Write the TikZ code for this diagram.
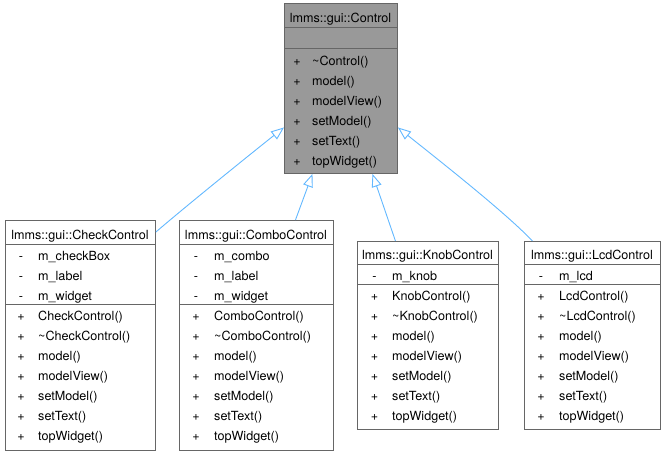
\documentclass[tikz,border=0pt]{standalone}
\usepackage{fontspec}
\setmainfont{TeX Gyre Heros}
\usetikzlibrary{arrows.meta}
\definecolor{boxline}{HTML}{666666}
\definecolor{basefill}{HTML}{999999}
\definecolor{edgeblue}{HTML}{63B8FF}
\tikzset{
  umlbox/.style={draw=boxline, line width=0.9pt, inner sep=0pt, anchor=north west, fill=white},
  divider/.style={draw=boxline, line width=0.9pt},
  txt/.style={inner sep=0pt, font=\fontsize{12.6}{15}\selectfont},
  classtitle/.style={txt, anchor=base},
  sign/.style={txt, anchor=base},
  member/.style={txt, anchor=base west},
  inherit/.style={draw=edgeblue, line width=0.9pt,
    -{Triangle[open, length=13pt, width=10pt, fill=white]}},
}
\begin{document}
\begin{tikzpicture}[x=1pt,y=-1pt]
\useasboundingbox (0,0) rectangle (664,456);

% ---- base class lmms::gui::Control ----
\node[umlbox, fill=basefill, minimum width=113pt, minimum height=170pt] (base) at (284,3) {};
\draw[divider] (284,27.5) -- (397,27.5);
\draw[divider] (284,48) -- (397,48);
\node[classtitle] (base-t) at (340.5,22.8) {lmms::gui::Control};
\foreach \t [count=\i from 0] in {\textasciitilde Control(), model(), modelView(), setModel(), setText(), topWidget()} {
  \node[sign] (base-s\i) at (297,65.5+20*\i) {+};
  \node[member] (base-m\i) at (312,65.5+20*\i) {\t};
}

% ---- lmms::gui::CheckControl ----
\node[umlbox, minimum width=150pt, minimum height=230pt] (check) at (5,220) {};
\draw[divider] (5,244) -- (155,244);
\draw[divider] (5,304) -- (155,304);
\node[classtitle] (check-t) at (80,239.5) {lmms::gui::CheckControl};
\foreach \t [count=\i from 0] in {m\_checkBox, m\_label, m\_widget} {
  \node[sign] (check-as\i) at (21,260+20*\i) {-};
  \node[member] (check-a\i) at (38,260+20*\i) {\t};
}
\foreach \t [count=\i from 0] in {CheckControl(), \textasciitilde CheckControl(), model(), modelView(), setModel(), setText(), topWidget()} {
  \node[sign] (check-s\i) at (21,320.5+20*\i) {+};
  \node[member] (check-m\i) at (38,320.5+20*\i) {\t};
}

% ---- lmms::gui::ComboControl ----
\node[umlbox, minimum width=154pt, minimum height=230pt] (combo) at (179,220) {};
\draw[divider] (179,244) -- (333,244);
\draw[divider] (179,304) -- (333,304);
\node[classtitle] (combo-t) at (256,239.5) {lmms::gui::ComboControl};
\foreach \t [count=\i from 0] in {m\_combo, m\_label, m\_widget} {
  \node[sign] (combo-as\i) at (196,260+20*\i) {-};
  \node[member] (combo-a\i) at (214,260+20*\i) {\t};
}
\foreach \t [count=\i from 0] in {ComboControl(), \textasciitilde ComboControl(), model(), modelView(), setModel(), setText(), topWidget()} {
  \node[sign] (combo-s\i) at (196,320.5+20*\i) {+};
  \node[member] (combo-m\i) at (214,320.5+20*\i) {\t};
}

% ---- lmms::gui::KnobControl ----
\node[umlbox, minimum width=141pt, minimum height=188pt] (knob) at (357,241) {};
\draw[divider] (357,264) -- (498,264);
\draw[divider] (357,284) -- (498,284);
\node[classtitle] (knob-t) at (427.5,259) {lmms::gui::KnobControl};
\node[sign] (knob-as0) at (374.5,280) {-};
\node[member] (knob-a0) at (392,280) {m\_knob};
\foreach \t [count=\i from 0] in {KnobControl(), \textasciitilde KnobControl(), model(), modelView(), setModel(), setText(), topWidget()} {
  \node[sign] (knob-s\i) at (374.5,300.5+20*\i) {+};
  \node[member] (knob-m\i) at (392,300.5+20*\i) {\t};
}

% ---- lmms::gui::LcdControl ----
\node[umlbox, minimum width=136pt, minimum height=188pt] (lcd) at (524,241) {};
\draw[divider] (524,264) -- (660,264);
\draw[divider] (524,284) -- (660,284);
\node[classtitle] (lcd-t) at (592,259) {lmms::gui::LcdControl};
\node[sign] (lcd-as0) at (541,280) {-};
\node[member] (lcd-a0) at (559,280) {m\_lcd};
\foreach \t [count=\i from 0] in {LcdControl(), \textasciitilde LcdControl(), model(), modelView(), setModel(), setText(), topWidget()} {
  \node[sign] (lcd-s\i) at (541,300.5+20*\i) {+};
  \node[member] (lcd-m\i) at (559,300.5+20*\i) {\t};
}

% ---- inheritance arrows ----
\draw[inherit] ([yshift=-12pt]check.north east) .. controls (185,207) and (248,156) .. ([yshift=-39pt]base.west);
\draw[inherit] ([xshift=39pt]combo.north) -- ([xshift=-28.5pt]base.south);
\draw[inherit] ([xshift=-32.5pt]knob.north) -- ([xshift=31.5pt]base.south);
\draw[inherit] ([xshift=-60pt]lcd.north) .. controls (505,212) and (436,158) .. ([yshift=-39pt]base.east);
\end{tikzpicture}
\end{document}
